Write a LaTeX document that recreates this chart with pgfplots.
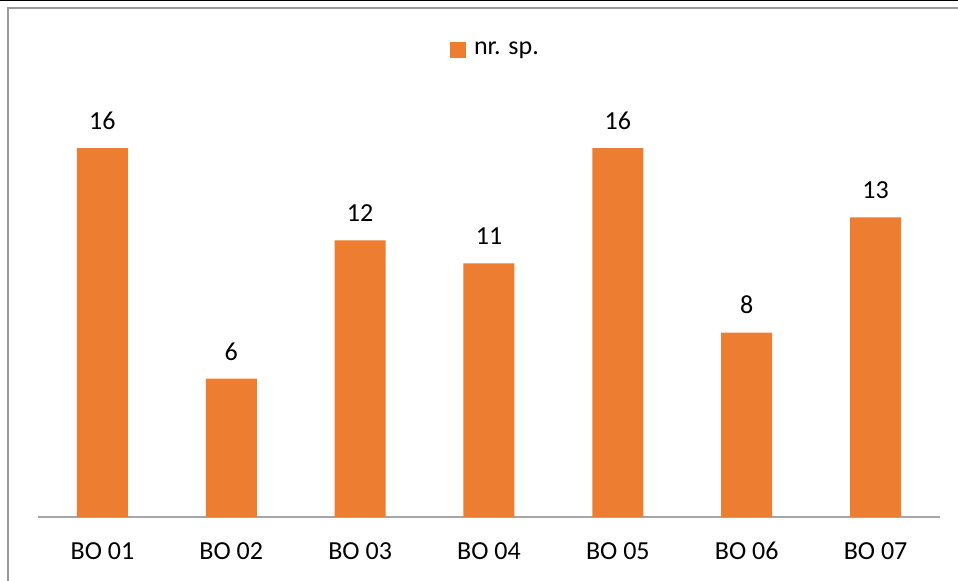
\documentclass[border=0pt]{standalone}
\usepackage{pgfplots}
\pgfplotsset{compat=1.18}
\usepackage{fontspec}
\setmainfont{Carlito}
\definecolor{barorange}{HTML}{ED7D31}
\definecolor{axisgray}{HTML}{A6A6A6}
\definecolor{framegray}{HTML}{9A9A9A}
\begin{document}
\fontsize{13}{15.6}\selectfont
\begin{tikzpicture}
\path[use as bounding box] (-19pt,-32pt) rectangle (460pt,258.5pt);
\clip (-19pt,-32pt) rectangle (460pt,258.5pt);
\fill[white] (-19pt,-32pt) rectangle (460pt,258.5pt);
\draw[black, line width=1.2pt] (-20pt,258.4pt) -- (461pt,258.4pt);
\draw[framegray, line width=0.75pt] (-15pt,-40pt) -- (-15pt,254.5pt) -- (470pt,254.5pt);
\begin{axis}[
  scale only axis,
  width=451pt, height=207.5pt,
  xmin=-0.5, xmax=6.5,
  ymin=0, ymax=18,
  xtick=data,
  xticklabels={BO 01,BO 02,BO 03,BO 04,BO 05,BO 06,BO 07},
  major tick length=0pt,
  axis x line*=bottom,
  axis y line=none,
  x axis line style={axisgray, line width=0.75pt, -},
  xticklabel style={anchor=base, inner sep=0pt, yshift=-21.5pt, font=\fontsize{13}{15.6}\selectfont},
  /pgf/number format/assume math mode=true,
  ybar,
  bar width=25.5pt,
  nodes near coords,
  nodes near coords style={anchor=base, inner sep=0pt, yshift=9.3pt, black, font=\fontsize{13}{15.6}\selectfont},
  legend style={at={(0.5085,1.125)}, anchor=center, draw=none, fill=none,
    font=\fontsize{13}{15.6}\selectfont, inner sep=0pt,
    /tikz/every odd column/.append style={column sep=2pt}},
  legend image code/.code={\fill[barorange] (0pt,-3.9pt) rectangle (7.8pt,3.9pt);},
  clip=false,
]
\addplot[fill=barorange, draw=none] coordinates {(0,16) (1,6) (2,12) (3,11) (4,16) (5,8) (6,13)};
\addlegendentry{nr. sp.}
\end{axis}
\end{tikzpicture}
\end{document}
